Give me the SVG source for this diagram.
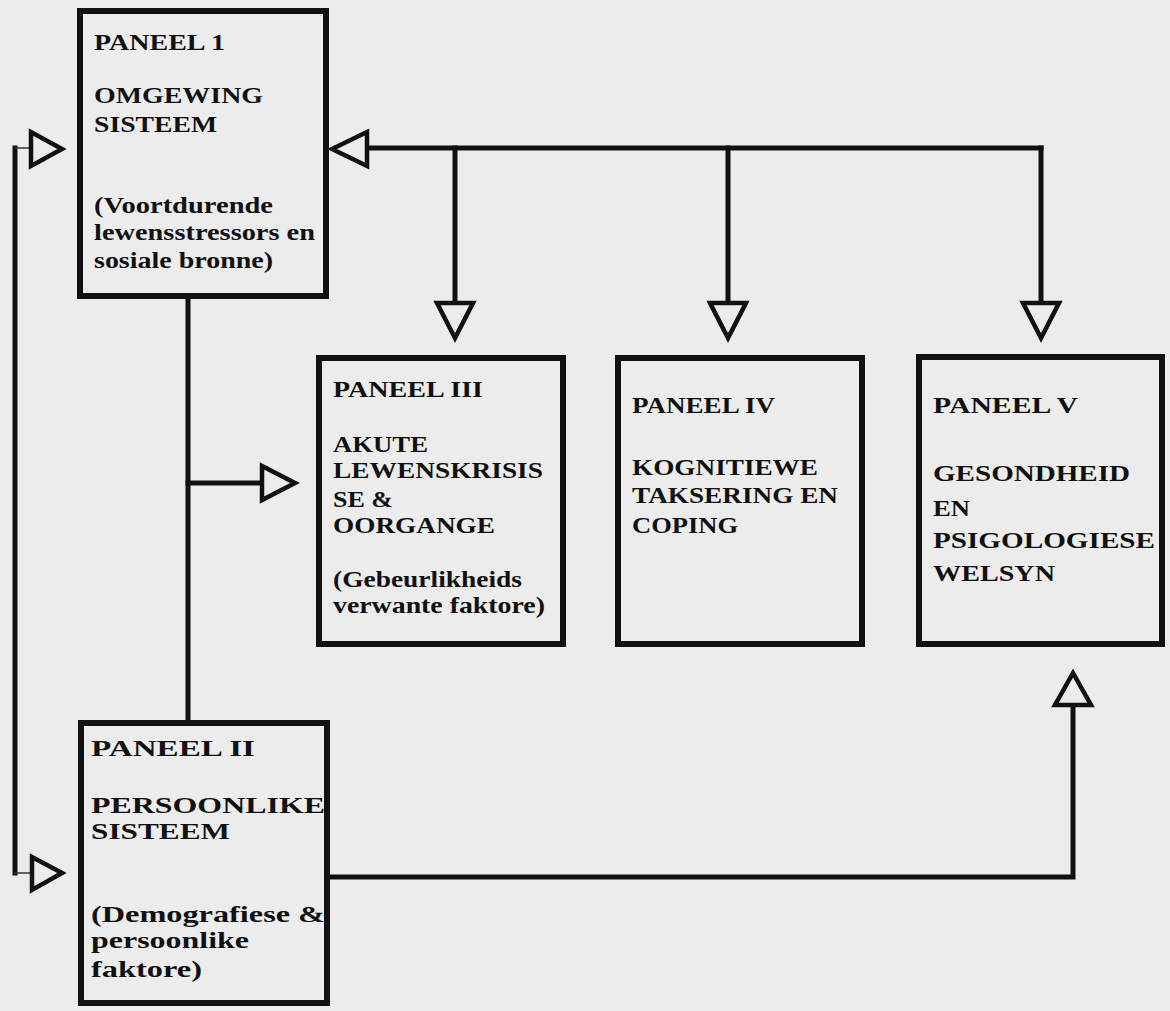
<svg xmlns="http://www.w3.org/2000/svg" width="1170" height="1011" viewBox="0 0 1170 1011">
<style>
.bg{fill:#ececec}
.box{fill:none;stroke:#111;stroke-width:6}
.ln{fill:none;stroke:#111;stroke-width:5;stroke-linecap:square}
.thin{fill:none;stroke:#333;stroke-width:1.5}
.ah{fill:#ececec;stroke:#111;stroke-width:4.5;stroke-linejoin:miter}
text{font-family:"Liberation Serif","Times New Roman",serif;font-weight:bold;font-size:23px;fill:#111}
</style>
<rect class="bg" x="0" y="0" width="1170" height="1011"/>
<g id="connectors">
  <line class="ln" x1="15" y1="148" x2="15" y2="873"/>
  <line class="thin" x1="15" y1="148" x2="31" y2="148"/>
  <line class="thin" x1="15" y1="873" x2="32" y2="873"/>
  <polygon class="ah" points="62,149 31,132 31,166"/>
  <polygon class="ah" points="62,873 32,857 32,890"/>
  <line class="ln" x1="188" y1="299" x2="188" y2="720"/>
  <line class="ln" x1="188" y1="483" x2="262" y2="483"/>
  <polygon class="ah" points="295,483 262,466 262,500"/>
  <line class="ln" x1="367" y1="148" x2="1041" y2="148"/>
  <polygon class="ah" points="332,149 367,132 367,166"/>
  <line class="ln" x1="455" y1="148" x2="455" y2="303"/>
  <polygon class="ah" points="455,338 437,303 473,303"/>
  <line class="ln" x1="728" y1="148" x2="728" y2="303"/>
  <polygon class="ah" points="728,338 710,303 746,303"/>
  <line class="ln" x1="1041" y1="148" x2="1041" y2="303"/>
  <polygon class="ah" points="1041,338 1023,303 1059,303"/>
  <polyline class="ln" points="330,877 1073,877 1073,705"/>
  <polygon class="ah" points="1073,673 1055,705 1091,705"/>
</g>
<g id="panel1">
  <rect class="box" x="80" y="11" width="246" height="285"/>
  <text x="94" y="50" textLength="131" lengthAdjust="spacingAndGlyphs">PANEEL 1</text>
  <text x="94" y="103" textLength="169" lengthAdjust="spacingAndGlyphs">OMGEWING</text>
  <text x="94" y="132" textLength="123" lengthAdjust="spacingAndGlyphs">SISTEEM</text>
  <text x="94" y="213" textLength="179" lengthAdjust="spacingAndGlyphs">(Voortdurende</text>
  <text x="94" y="240" textLength="221" lengthAdjust="spacingAndGlyphs">lewensstressors en</text>
  <text x="94" y="268" textLength="179" lengthAdjust="spacingAndGlyphs">sosiale bronne)</text>
</g>
<g id="panel2">
  <rect class="box" x="81" y="723" width="246" height="280"/>
  <text x="91" y="756" textLength="164" lengthAdjust="spacingAndGlyphs">PANEEL II</text>
  <text x="91" y="813" textLength="234" lengthAdjust="spacingAndGlyphs">PERSOONLIKE</text>
  <text x="91" y="839" textLength="139" lengthAdjust="spacingAndGlyphs">SISTEEM</text>
  <text x="91" y="922" textLength="234" lengthAdjust="spacingAndGlyphs">(Demografiese &amp;</text>
  <text x="91" y="948" textLength="158" lengthAdjust="spacingAndGlyphs">persoonlike</text>
  <text x="91" y="977" textLength="111" lengthAdjust="spacingAndGlyphs">faktore)</text>
</g>
<g id="panel3">
  <rect class="box" x="319" y="358" width="244" height="286"/>
  <text x="333" y="397" textLength="150" lengthAdjust="spacingAndGlyphs">PANEEL III</text>
  <text x="333" y="452" textLength="95" lengthAdjust="spacingAndGlyphs">AKUTE</text>
  <text x="333" y="478" textLength="210" lengthAdjust="spacingAndGlyphs">LEWENSKRISIS</text>
  <text x="333" y="507" textLength="60" lengthAdjust="spacingAndGlyphs">SE &amp;</text>
  <text x="333" y="533" textLength="162" lengthAdjust="spacingAndGlyphs">OORGANGE</text>
  <text x="333" y="587" textLength="189" lengthAdjust="spacingAndGlyphs">(Gebeurlikheids</text>
  <text x="333" y="613" textLength="212" lengthAdjust="spacingAndGlyphs">verwante faktore)</text>
</g>
<g id="panel4">
  <rect class="box" x="618" y="358" width="244" height="286"/>
  <text x="632" y="413" textLength="143" lengthAdjust="spacingAndGlyphs">PANEEL IV</text>
  <text x="632" y="475" textLength="186" lengthAdjust="spacingAndGlyphs">KOGNITIEWE</text>
  <text x="632" y="503" textLength="206" lengthAdjust="spacingAndGlyphs">TAKSERING EN</text>
  <text x="632" y="533" textLength="106" lengthAdjust="spacingAndGlyphs">COPING</text>
</g>
<g id="panel5">
  <rect class="box" x="919" y="357" width="243" height="287"/>
  <text x="933" y="413" textLength="145" lengthAdjust="spacingAndGlyphs">PANEEL V</text>
  <text x="933" y="481" textLength="197" lengthAdjust="spacingAndGlyphs">GESONDHEID</text>
  <text x="933" y="516" textLength="37" lengthAdjust="spacingAndGlyphs">EN</text>
  <text x="933" y="548" textLength="222" lengthAdjust="spacingAndGlyphs">PSIGOLOGIESE</text>
  <text x="933" y="581" textLength="122" lengthAdjust="spacingAndGlyphs">WELSYN</text>
</g>
</svg>
